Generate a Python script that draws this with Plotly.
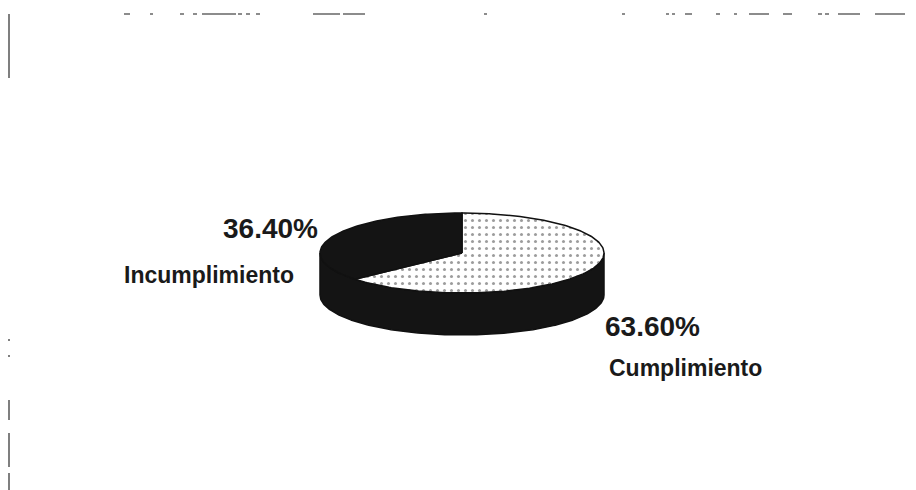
import numpy as np
import plotly.graph_objects as go

# Compliance split
categories = ["Cumplimiento", "Incumplimiento"]
values = [63.60, 36.40]
top_colors = ["white", "#141414"]
side_color = "#141414"

# 3D pie geometry (axis units = pixels)
cx, cy = 462, 253      # centre of top face
rx, ry = 142, 40       # ellipse radii
depth = 42             # wall height
W, H = 916, 490


def ellipse(theta_deg, dy=0.0):
    t = np.radians(theta_deg)
    return cx + rx * np.sin(t), cy - ry * np.cos(t) + dy


fig = go.Figure()

# front wall (visible half of the cylinder)
th = np.linspace(90, 270, 181)
xt, yt = ellipse(th)
xb, yb = ellipse(th[::-1], depth)
fig.add_trace(go.Scatter(
    x=np.concatenate([xt, xb, xt[:1]]), y=np.concatenate([yt, yb, yt[:1]]),
    mode="lines", fill="toself", fillcolor=side_color,
    line=dict(color="#111", width=1.5), hoverinfo="skip", showlegend=False))

# top faces, clockwise from 12 o'clock
total = sum(values)
start = 0.0
for cat, v, col in zip(categories, values, top_colors):
    span = v / total * 360
    th = np.linspace(start, start + span, max(int(span), 2) + 1)
    ax_, ay_ = ellipse(th)
    xs = np.concatenate([[cx], ax_, [cx]])
    ys = np.concatenate([[cy], ay_, [cy]])
    kw = {}
    if col == "white":
        kw["fillpattern"] = dict(shape=".", fgcolor="#3a3a3a", bgcolor="white",
                                 size=7, solidity=0.15)
    fig.add_trace(go.Scatter(
        x=xs, y=ys, mode="lines", fill="toself", fillcolor=col,
        line=dict(color="#111", width=1.5), name=cat, hoverinfo="skip",
        showlegend=False, **kw))
    start += span

# labels: percentage above the category name
pct_font = dict(family="Liberation Sans, Arial, sans-serif", size=28, color="#1a1a1a")
name_font = dict(family="Liberation Sans, Arial, sans-serif", size=23, color="#1a1a1a")
label_pos = {
    "Cumplimiento": dict(px=603, py=326, nx=607, ny=368, anchor="left"),
    "Incumplimiento": dict(px=320, py=228, nx=296, ny=275, anchor="right"),
}
for cat, v in zip(categories, values):
    p = label_pos[cat]
    fig.add_annotation(x=p["px"], y=p["py"], text=f"<b>{v:.2f}%</b>",
                       showarrow=False, xanchor=p["anchor"], yanchor="middle",
                       font=pct_font)
    fig.add_annotation(x=p["nx"], y=p["ny"], text=f"<b>{cat}</b>",
                       showarrow=False, xanchor=p["anchor"], yanchor="middle",
                       font=name_font)

# faint, broken frame lines around the chart area
frame = []
top_segments = [(124, 130), (150, 153), (180, 184), (193, 197), (202, 236),
                (238, 242), (246, 250), (256, 260), (313, 340), (343, 365),
                (484, 487), (622, 625), (666, 669), (672, 675), (685, 692),
                (716, 720), (734, 737), (749, 769), (783, 792), (818, 822),
                (825, 829), (838, 860), (875, 905)]
for x0, x1 in top_segments:
    frame.append(dict(type="line", x0=x0, x1=x1, y0=14, y1=14,
                      line=dict(color="#666", width=1.5)))
left_segments = [(14, 78), (339, 341), (355, 357), (400, 420), (433, 467), (473, 490)]
for y0, y1 in left_segments:
    frame.append(dict(type="line", x0=9, x1=9, y0=y0, y1=y1,
                      line=dict(color="#555", width=1.5)))

fig.update_layout(
    width=W, height=H, margin=dict(l=0, r=0, t=0, b=0),
    paper_bgcolor="white", plot_bgcolor="white",
    xaxis=dict(range=[0, W], visible=False, fixedrange=True),
    yaxis=dict(range=[H, 0], visible=False, fixedrange=True),
    shapes=frame,
)

fig.write_html("out.html")
